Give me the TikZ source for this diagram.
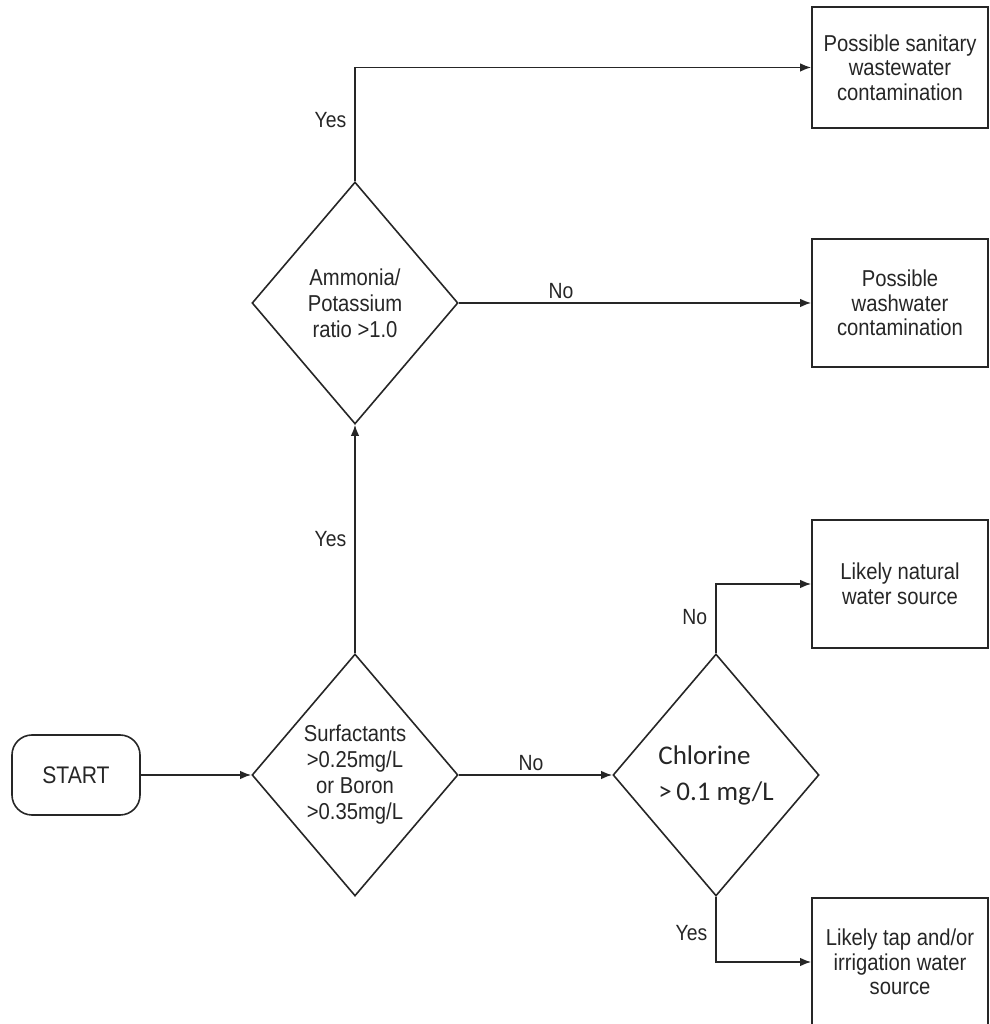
\documentclass[tikz,border=0pt]{standalone}
\usepackage{fontspec}
\setmainfont[FakeStretch=0.88]{Liberation Sans}
\newfontfamily\calibrifont{Carlito}
\usetikzlibrary{shapes.geometric,arrows.meta}

\begin{document}
\begin{tikzpicture}
[ x=1pt, y=1pt, line width=1.6pt, color=black!85
, decision/.style={diamond, draw, minimum width=206pt, minimum height=242pt, inner sep=0pt, align=center, font=\fontsize{23}{26}\selectfont}
, outcome/.style={rectangle, draw, minimum width=176pt, minimum height=128pt, align=center, font=\fontsize{23}{24.5}\selectfont}
, startbox/.style={rectangle, rounded corners=20pt, draw, minimum width=128pt, minimum height=80pt, font=\fontsize{24}{28}\selectfont}
, flow/.style={-{Latex[length=11pt,width=8.5pt]}}
, answer/.style={font=\fontsize{22}{26}\selectfont, inner xsep=8pt, inner ysep=3pt}
]
\useasboundingbox (0,0) rectangle (989,1024);
% Start and the three tests:
\node (start) [startbox] at (76,249) {START};
\node (surf) [decision] at (355,249) {Surfactants\\>0.25mg/L\\or Boron\\>0.35mg/L};
\node (ammo) [decision] at (355,721) {Ammonia/\\Potassium\\ratio >1.0};
\node (chlor) [decision, align=left, font=\calibrifont\fontsize{27}{36}\selectfont] at (716,249) {Chlorine\\>\,0.1 mg/L};
% Outcomes:
\node (sanit) [outcome, minimum height=121pt] at (900,956.5) {Possible sanitary\\wastewater\\contamination};
\node (wash) [outcome] at (900,721) {Possible\\washwater\\contamination};
\node (nat) [outcome] at (900,440) {Likely natural\\water source};
\node (tap) [outcome] at (900,62) {Likely tap and/or\\irrigation water\\source};
% Connectors:
\draw [flow] (start) -- (surf);
\draw [flow] (surf) -- node[answer, above, pos=0.47] {No} (chlor);
\draw [flow] (surf) -- node[answer, left, pos=0.5] {Yes} (ammo);
\draw [flow] (ammo) -- node[answer, above, pos=0.29] {No} (wash);
\draw [flow] (ammo.north) |- node[answer, left, pos=0.27] {Yes} (sanit.west);
\draw [flow] (chlor.north) |- node[answer, left, pos=0.26] {No} (nat.west);
\draw [flow] (chlor.south) |- node[answer, left, pos=0.28] {Yes} (tap.west);
\end{tikzpicture}
\end{document}
